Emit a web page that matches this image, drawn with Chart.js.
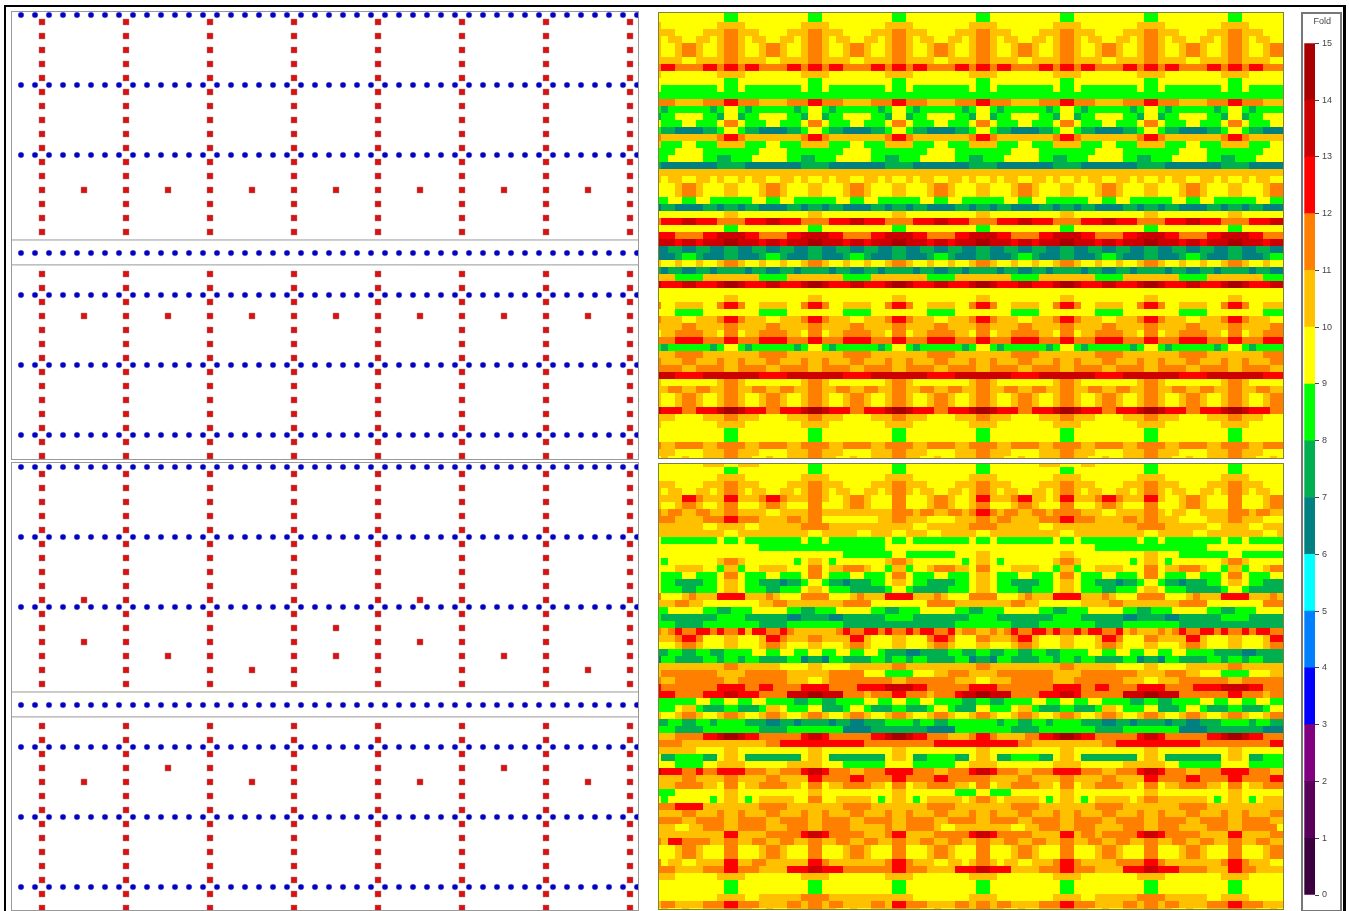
<!DOCTYPE html>
<html lang="en">
<head>
<meta charset="UTF-8">
<title>Fold maps</title>
<script src="https://cdn.jsdelivr.net/npm/chart.js"></script>
<style>
    html, body { margin: 0; padding: 0; background: #fff; overflow: hidden; }
    canvas { position: absolute; display: block; }
    #frame { position: absolute; left: 4px; top: 5px; width: 1337px; height: 920px;
             border-top: 2px solid #000; border-left: 2px solid #000; border-right: 3px solid #000; }
    .layout { outline: 1px solid #999; outline-offset: 0; }
    .heat { outline: 1px solid #808040; outline-offset: -1px; }
    #legendBox { position: absolute; left: 1301px; top: 12px; width: 37px; height: 896px; border: 2px solid #777; }
</style>
</head>
<body>
<div id="frame"></div>
<canvas id="layoutTop" class="layout" width="626" height="447" style="left:12px;top:12px"></canvas>
<canvas id="layoutBottom" class="layout" width="626" height="447" style="left:12px;top:463px"></canvas>
<canvas id="heatTop" class="heat" width="626" height="447" style="left:658px;top:12px"></canvas>
<canvas id="heatBottom" class="heat" width="626" height="447" style="left:658px;top:463px"></canvas>
<div id="legendBox"></div>
<canvas id="legend" width="38" height="896" style="left:1302px;top:13px"></canvas>

<script>
// survey layout, in station / row numbers
const receiverStations = [0,1,2,3,4,5,6,7,8,9,10,11,12,13,14,15,16,17,18,19,20,21,22,23,24,25,26,27,28,29,30,31,32,33,34,35,36,37,38,39,40,41,42,43,44];
const receiverLines = [-0.5,4.5,9.5,16.5,19.5,24.5,29.5];
const sourceLines = [1.5,7.5,13.5,19.5,25.5,31.5,37.5,43.5];
const sourceRows = [0,1,2,3,4,5,6,7,8,9,10,11,12,13,14,15,18,19,20,21,22,23,24,25,26,27,28,29,30,31];
const separators = [15.57,17.35];
const infillTop = [[4.5,12],[10.5,12],[16.5,12],[22.5,12],[28.5,12],[34.5,12],[40.5,12],
                   [4.5,21],[10.5,21],[16.5,21],[22.5,21],[28.5,21],[34.5,21],[40.5,21]];
const infillBottom = [[4.5,9],[28.5,9],[22.5,11],[4.5,12],[28.5,12],[10.5,13],[34.5,13],[22.5,13],[16.5,14],[40.5,14],
                      [10.5,21],[34.5,21],[4.5,22],[16.5,22],[28.5,22],[40.5,22]];

// fold legend
const foldLevels = [0,1,2,3,4,5,6,7,8,9,10,11,12,13,14];
const foldColors = ['#3c0040','#5a005a','#800080','#0000ff','#0080ff','#00ffff','#008080','#00b050',
                    '#00ff00','#ffff00','#ffc000','#ff8000','#ff0000','#cc0000','#a80000'];

// fold per cell, one hex digit per column
const foldTop = [
"9 999999999889 999999999889 999999999889 999999999889 999999999889 999999999889 999999999889 99999",
"9 999999999889 999999999889 999999999889 999999999889 999999999889 999999999889 999999999889 99999",
"a 99999999aaaa 99999999aaaa 99999999aaaa 99999999aaaa 99999999aaaa 99999999aaaa 99999999aaaa 99999",
"a aa9999aaabba aa9999aaabba aa9999aaabba aa9999aaabba aa9999aaabba aa9999aaabba aa9999aaabba aa999",
"a 9aa99aa9abba 9aa99aa9abba 9aa99aa9abba 9aa99aa9abba 9aa99aa9abba 9aa99aa9abba 9aa99aa9abba 9aa99",
"a 99abba99abba 99abba99abba 99abba99abba 99abba99abba 99abba99abba 99abba99abba 99abba99abba 99abb",
"a 99abba99abba 99abba99abba 99abba99abba 99abba99abba 99abba99abba 99abba99abba 99abba99abba 99abb",
"a aaa99aaaabba aaa99aaaabba aaa99aaaabba aaa99aaaabba aaa99aaaabba aaa99aaaabba aaa99aaaabba aaa99",
"b ccbbbbccbccb ccbbbbccbccb ccbbbbccbccb ccbbbbccbccb ccbbbbccbccb ccbbbbccbccb ccbbbbccbccb ccbbb",
"a 99999999aaaa 99999999aaaa 99999999aaaa 99999999aaaa 99999999aaaa 99999999aaaa 99999999aaaa 99999",
"9 999999999889 999999999889 999999999889 999999999889 999999999889 999999999889 999999999889 99999",
"9 888888889889 888888889889 888888889889 888888889889 888888889889 888888889889 888888889889 88888",
"8 888888888888 888888888888 888888888888 888888888888 888888888888 888888888888 888888888888 88888",
"b bbaaaabbbccb bbaaaabbbccb bbaaaabbbccb bbaaaabbbccb bbaaaabbbccb bbaaaabbbccb bbaaaabbbccb bbaaa",
"8 788888878998 788888878998 788888878998 788888878998 788888878998 788888878998 788888878998 78888",
"7 889999887997 889999887997 889999887997 889999887997 889999887997 889999887997 889999887997 88999",
"9 888998889bb9 888998889bb9 888998889bb9 888998889bb9 888998889bb9 888998889bb9 888998889bb9 88899",
"8 776666778998 776666778998 776666778998 776666778998 776666778998 776666778998 776666778998 77666",
"b aaaaaaaabccb aaaaaaaabccb aaaaaaaabccb aaaaaaaabccb aaaaaaaabccb aaaaaaaabccb aaaaaaaabccb aaaaa",
"a 88899888aaaa 88899888aaaa 88899888aaaa 88899888aaaa 88899888aaaa 88899888aaaa 88899888aaaa 88899",
"8 889999888888 889999888888 889999888888 889999888888 889999888888 889999888888 889999888888 88999",
"8 899999887788 899999887788 899999887788 899999887788 899999887788 899999887788 899999887788 89999",
"7 666666667777 666666667777 666666667777 666666667777 666666667777 666666667777 666666667777 66666",
"a aaaaaaaaaaaa aaaaaaaaaaaa aaaaaaaaaaaa aaaaaaaaaaaa aaaaaaaaaaaa aaaaaaaaaaaa aaaaaaaaaaaa aaaaa",
"a 9aa99aa9a99a 9aa99aa9a99a 9aa99aa9a99a 9aa99aa9a99a 9aa99aa9a99a 9aa99aa9a99a 9aa99aa9a99a 9aa99",
"9 99abba999aa9 99abba999aa9 99abba999aa9 99abba999aa9 99abba999aa9 99abba999aa9 99abba999aa9 99abb",
"9 99abba999aa9 99abba999aa9 99abba999aa9 99abba999aa9 99abba999aa9 99abba999aa9 99abba999aa9 99abb",
"8 899889988888 899889988888 899889988888 899889988888 899889988888 899889988888 899889988888 89988",
"6 776666776776 776666776776 776666776776 776666776776 776666776776 776666776776 776666776776 77666",
"9 999999999aa9 999999999aa9 999999999aa9 999999999aa9 999999999aa9 999999999aa9 999999999aa9 99999",
"b cccddcccbbbb cccddcccbbbb cccddcccbbbb cccddcccbbbb cccddcccbbbb cccddcccbbbb cccddcccbbbb cccdd",
"9 999999999889 999999999889 999999999889 999999999889 999999999889 999999999889 999999999889 99999",
"c ccbbbbccdddd ccbbbbccdddd ccbbbbccdddd ccbbbbccdddd ccbbbbccdddd ccbbbbccdddd ccbbbbccdddd ccbbb",
"d ddcddcdddeed ddcddcdddeed ddcddcdddeed ddcddcdddeed ddcddcdddeed ddcddcdddeed ddcddcdddeed ddcdd",
"6 677667766776 677667766776 677667766776 677667766776 677667766776 677667766776 677667766776 67766",
"6 667887666776 667887666776 667887666776 667887666776 667887666776 667887666776 667887666776 66788",
"a 99a99a99abba 99a99a99abba 99a99a99abba 99a99a99abba 99a99a99abba 99a99a99abba 99a99a99abba 99a99",
"7 677667767777 677667767777 677667767777 677667767777 677667767777 677667767777 677667767777 67766",
"a aa8888aaaaaa aa8888aaaaaa aa8888aaaaaa aa8888aaaaaa aa8888aaaaaa aa8888aaaaaa aa8888aaaaaa aa888",
"d cccddcccdeed cccddcccdeed cccddcccdeed cccddcccdeed cccddcccdeed cccddcccdeed cccddcccdeed cccdd",
"9 999999999999 999999999999 999999999999 999999999999 999999999999 999999999999 999999999999 99999",
"9 999999999aa9 999999999aa9 999999999aa9 999999999aa9 999999999aa9 999999999aa9 999999999aa9 99999",
"b 99aaaa99bccb 99aaaa99bccb 99aaaa99bccb 99aaaa99bccb 99aaaa99bccb 99aaaa99bccb 99aaaa99bccb 99aaa",
"9 998888999999 998888999999 998888999999 998888999999 998888999999 998888999999 998888999999 99888",
"b aaa99aaabccb aaa99aaabccb aaa99aaabccb aaa99aaabccb aaa99aaabccb aaa99aaabccb aaa99aaabccb aaa99",
"a aaabbaaaabba aaabbaaaabba aaabbaaaabba aaabbaaaabba aaabbaaaabba aaabbaaaabba aaabbaaaabba aaabb",
"9 aabbbbaa9bb9 aabbbbaa9bb9 aabbbbaa9bb9 aabbbbaa9bb9 aabbbbaa9bb9 aabbbbaa9bb9 aabbbbaa9bb9 aabbb",
"b bbccccbbbccb bbccccbbbccb bbccccbbbccb bbccccbbbccb bbccccbbbccb bbccccbbbccb bbccccbbbccb bbccc",
"8 788888878998 788888878998 788888878998 788888878998 788888878998 788888878998 788888878998 78888",
"a aabbbbaaaaaa aabbbbaaaaaa aabbbbaaaaaa aabbbbaaaaaa aabbbbaaaaaa aabbbbaaaaaa aabbbbaaaaaa aabbb",
"b aaabbaaabaab aaabbaaabaab aaabbaaabaab aaabbaaabaab aaabbaaabaab aaabbaaabaab aaabbaaabaab aaabb",
"b bbbaabbbbaab bbbaabbbbaab bbbaabbbbaab bbbaabbbbaab bbbaabbbbaab bbbaabbbbaab bbbaabbbbaab bbbaa",
"d ddccccdddddd ddccccdddddd ddccccdddddd ddccccdddddd ddccccdddddd ddccccdddddd ddccccdddddd ddccc",
"a 99999999abba 99999999abba 99999999abba 99999999abba 99999999abba 99999999abba 99999999abba 99999",
"a abbaabbaabba abbaabbaabba abbaabbaabba abbaabbaabba abbaabbaabba abbaabbaabba abbaabbaabba abbaa",
"a 99abba99abba 99abba99abba 99abba99abba 99abba99abba 99abba99abba 99abba99abba 99abba99abba 99abb",
"a 99abba99abba 99abba99abba 99abba99abba 99abba99abba 99abba99abba 99abba99abba 99abba99abba 99abb",
"d cccbbcccdeed cccbbcccdeed cccbbcccdeed cccbbcccdeed cccbbcccdeed cccbbcccdeed cccbbcccdeed cccbb",
"a aa9999aaabba aa9999aaabba aa9999aaabba aa9999aaabba aa9999aaabba aa9999aaabba aa9999aaabba aa999",
"a 99999999aaaa 99999999aaaa 99999999aaaa 99999999aaaa 99999999aaaa 99999999aaaa 99999999aaaa 99999",
"9 999999999889 999999999889 999999999889 999999999889 999999999889 999999999889 999999999889 99999",
"9 999999999889 999999999889 999999999889 999999999889 999999999889 999999999889 999999999889 99999",
"b aabbbbaabbbb aabbbbaabbbb aabbbbaabbbb aabbbbaabbbb aabbbbaabbbb aabbbbaabbbb aabbbbaabbbb aabbb",
"a aa9999aaabba aa9999aaabba aa9999aaabba aa9999aaabba aa9999aaabba aa9999aaabba aa9999aaabba aa999",
"9 a99a99aaabba a99a99aaabba a99a99aaabba a99a99aaabba a99a99aaabba a99a99aaabba a99a99aaabba a99a9"
];

const foldBottom = [
"9 999999aaa99a aa9999999889 999999999889 999999999889 999999aaa999 aa9999999889 999999999889 99999",
"9 999999999889 999999999889 999999999889 999999999889 999999999889 999999999889 999999999889 99999",
"9 99999999aaaa 99999999aaaa 99999999aaaa 99999999aaaa 99999999aaaa 99999999aaaa 99999999aaaa 99999",
"a aa9999aaabba aa9999aaabba aa9999aaabba aa9999aaabba aa9999aaabba aa9999aaabba aa9999aaabba aa999",
"a 9aa99aa9abba 9aa99aa9abba 9aa99aa9abba 9aa99aa9abba 9aa99aa9abba 9aa99aa9abba 9aa99aa9abba 9aa99",
"a aaaccbaaacca aabccbaaabba 99abba999bb9 99abba99acca aabccaa9acca aabccbaaacca 99abba999bb9 99abb",
"a 99abba99abb9 99abba999bb9 99abba999bb9 99abba99abb9 99abba999bb9 99abba999bb9 99abba999bb9 99abb",
"b abbaabbaabba aaa99aaaabba aaaaaaaaabbb abbaabbabccb abbaabbabbbb aaa99aaaabba 9aa99aaaabbb abbaa",
"b bbaaaabbbccb bbaaaabbabb9 9999999aabba aa9999aaabba bbaaaabbbccb bbaaaabbabba aa9999aaabba aa999",
"a aaaaaa99aaaa 99aaaaaabbbb aaaaaaaaaaaa 99aaaaaabbbb aaaaaa99aaaa aaaaaaaabbbb aaaaaa99aaaa 99aaa",
"a aaaaaaaaa99a aaaaaaaaa99a aaaa99aaa99a aa99aaaaa99a aaaaaaaaa99a aaaaaaaaa99a aaaa99aaaaaa aa99a",
"9 888888889889 888888889889 888888889889 888888889889 888888889889 888888889889 888888889889 88888",
"9 999999999999 998888888888 888888889999 999999999999 999999999999 998888888888 888888999999 99999",
"9 999999999999 999999999999 998888888998 888888999aa9 999999999aa9 999999999aa9 998888888998 88888",
"9 89999999abba 999999989aa9 89999999abba 999999989aa9 89999999abba 999999989aa9 89999999abba 99999",
"9 99aaaa998aa8 99aaaa999bb9 aabbba998aa8 99abbbaa9bb9 99aaaa998aa8 99aaaa999bb9 aabbba998aa8 99abb",
"9 888998889bb9 888998889bb9 888998889bb9 888998889aa9 888998889bb9 888998889bb9 888998889bb9 88899",
"9 887777889aa9 887776778998 776777889aa9 887777889aa9 887777889aa9 887776778998 776777889aa9 88777",
"9 888778889aa9 888778889aa9 888777778998 777778889aa9 888778889aa9 888778889aa9 888777778998 77777",
"b 999abaaacccc aaaba999bbbb 999abaaacccc aaaba999bbbb 999abaaacccc aaaba999bbbb 999abaaacccc aaaba",
"a aabbaa999999 99aabbaaaaaa aabbbb999999 99bbbbaaaaaa aabbaa999999 aaaabbaaaaaa aabbbb999999 99bbb",
"8 899999887788 899999887788 899999887788 899999887788 899999887788 899999887788 899999887788 89999",
"8 777777778888 777777667777 667777778888 777777778888 777777778888 777777667777 667777778888 77777",
"8 887777888888 887777888888 887777777777 777777888888 887777888888 887777888888 887777777777 77777",
"b abcbbccbcbbc accbbcbaaaaa abcbbccbcbbc bccbbcabbaab abcbbccbcbbc bccbbcabaaab abcbbccbcbbc bccbb",
"a aabccb999aa9 99accbaaabba aaacca999aa9 99bccb999bba aabcca999aa9 99accb999bba aaacca999aa9 99acc",
"9 99abba999aa9 99abba999aa9 99abba999aa9 99abba999aa9 99abba999aa9 99abba999aa9 99abba999aa9 99abb",
"7 788778877888 899889988998 899889987776 677778877887 788778877888 899889988998 899888877776 67777",
"6 887777887887 887777886776 887777887887 887777886776 887777887887 887777886776 887777887887 88777",
"a aaaaaaaaabba aaaaa9999aa9 999aaaaaabba aaaaaaaaabba aaaaaaaaabba aaaaa9999aa9 999aaaaaabba aaaaa",
"a bbbbbbbbaaaa bbbbbbaaaaaa bbbbb9998888 999aabbbaaaa bbbbbbbbaaaa bbbbbbbbaaaa bbbaa9998888 999aa",
"b aabbbbbbbaab bbbbbbaaa99a bbbbbbbbbaab bbbbbbaaa99a aabbbbbbaaab bbbbbbaaa99a aabbbbbbbaab bbbbb",
"c bbbbbbbbcccc bbccbbbbcccc bbbbccccdddd ccbbbbbbcccc bbbbbbbbcccc bbccbbbbcccc bbbbccccdddd ccbbb",
"c ccbbbbcccddc ccbbbbdddeed ddbbbabbbccb bbabbbcddeed ddbbbbcccddc bbbbbbdddeed ddbbbbbbbccb bbabb",
"8 888889988998 899888877887 788889988998 899888877887 788889988998 899888877887 788889988998 89988",
"8 889aa8777887 778aa9888997 778998777887 778998777998 889aa8777887 778aa9888997 778998777887 77899",
"a 99abba99abba 99abba99abba 99abba99abba 99abba99abba 99abba99abba 99abba99abba 99abba99abba 99abb",
"7 788778878888 777667767777 677667778888 788778888888 788778878888 777667767777 677667778888 78877",
"8 887777888888 887777888888 886666777777 776666888888 887777888888 887777888888 886666777777 77666",
"a aabbbbccdeed ccbbbbbbcddc bbbbbbccdeed ccbbbaaabccb aaaabbccdeed ccbbbbbbcddc bbbbbbccdeed ccbbb",
"b bbbaaaaaaaaa aaabbccccccc cccccbbbbbbb bbbccccccccc cccbbaaaaaaa aaabbccccccc cccccbbbbbbb bbbcc",
"a aaaaa9999aa9 999999999aa9 999999999aa9 999999999aa9 999999999aa9 999999999aa9 999999999aa9 99999",
"9 778888779aa9 777777779aa9 777777779aa9 778888779aa9 778888779aa9 777777779aa9 777777779aa9 77888",
"9 99888899aaaa 999999aaaaa9 998888889999 88888899aaaa 99999999aaaa 999999aaaaaa 998888889999 88888",
"d cccbbcbbcccc bbbaabbbcddc bbbaabbbcccc bbbaabbbcddc bbbaabbbcccc bbbaabbbcddc bbbaabbbcccc bbbaa",
"a aaabbaaaabba aaabbaaaaccb bbbccbbbbccb bbbccbbbbbba aaabbaaaabba aaabbaaaaccb bbbccbbbbccb bbbcc",
"a aabbbbaa9bb9 aabbbbaa9bb9 aabbbbaa9bb9 aabbbbaa9bb9 aabbbbaa9bb9 aabbbbaa9bb9 aabbbbaa9bb9 aabbb",
"8 889999999aa9 999999999aa9 999999999aa9 999999888998 889999999aa9 999999999aa9 999999999aa9 99999",
"9 899999989aa9 89aaaaa99bb9 9aaaaa989aa9 89aaaaa9abba 9aaaaa989aa9 89aaaaa9abba aaaaaa989aa9 89aaa",
"b bbccccaaaaaa aabbbbaaaaaa aabbbbaaaaaa aabbbbaaaaaa aabbbbaaaaaa aabbbbaaaaaa aabbbbaaaaaa aaaaa",
"a aaabbaaabaab aaabbaaabaab aaabbaaabaab aaabbaaabaab aaabbaaabaab aaabbaaabaab aaabbaaabaab aaabb",
"b bbbaabbbbaab bbbaabbbbaab bbbaabbbbaab bbbaabbbbaab bbbaabbbbaab bbbaabbbbaab bbbaabbbbaab bbbaa",
"a aa99aabbbaab bbbaaabbbaab bbbaaaaabaab bbba99aaaaaa aa99aabbbaab bbaaaabbbaab bbaaaabbbaab bbbb9",
"a aaaaaaaaacca aaabbbbbcddc bbbbbaaabcca aaabbbbbcddc bbbbbaaaacca bbabbbbbcddc bbbbbaaaacca aaabb",
"b accbbbbaabba abbaabbaabba abbaabbaabba abbaabbaabba abbaabbaabba abbaabbaabba abbaabbaabba abbaa",
"9 99abba999bb9 99abba999bb9 99abba999bb9 99abba999bb9 99abba999bb9 99abba999bb9 99abba999bb9 99abb",
"9 99abba999bb9 99abba999bb9 99abba999bb9 99abba999bb9 99abba999bb9 99abba999bb9 99abba999bb9 99abb",
"b 9aa99aaaacca abbaaaaaaccb aaaaaaaabccb aaa99aa9abba 9aa99aaabccb aaaaabbbbccb aaaaaaaabccb aaa99",
"b bbaaaabbbccb bbaaaacccddc ccbbbbbbbccb bbaaaacccddc ccaaaabbbccb bbaaaacccddc ccbbbbaaaccb baaaa",
"a aa999999aaaa 99999999aaaa 99999999aaaa 99999999aaaa 99999999aaaa 99999999aaaa 99999999aaaa 99999",
"9 999999999889 999999999889 999999999889 999999999889 999999999889 999999999889 999999999889 99999",
"9 999999999889 999999999889 999999999889 999999999889 999999999889 999999999889 999999999889 99999",
"9 99999999aaaa 99aaaaaabbbb aaaaaaaaaaaa 99999999aaaa 99999999aaaa 99aaaaaabbbb aaaaaa99aaaa 99999",
"a bbaaaabbbccb bbaaaabbabba bbaaaabbaccb bbaaaabbabba bbaaaabbbccb bbaaaabbabba bbaaaabbbccb bbaaa",
"9 a99a99aaabba a99a99aaabba a99a99aaabba a99a99aaabba a99a99aaabba a99a99aaabba a99a99aaabba a99a9"
];

const hiddenAxis = (min, max, reverse) => ({ type: 'linear', display: false, min, max, reverse: !!reverse });

function drawLayout(id, infill, rowOffset) {
    const xMin = -9 / 14, yMin = -rowOffset / 14;
    const xMax = xMin + 626 / 14, yMax = yMin + 447 / 14;

    const receivers = [];
    receiverLines.forEach(y => receiverStations.forEach(x => receivers.push({ x, y })));

    const sources = [];
    sourceLines.forEach(x => sourceRows.forEach(y => sources.push({ x, y })));
    infill.forEach(p => sources.push({ x: p[0], y: p[1] }));

    const lines = separators.map(y => ({
        data: [{ x: xMin, y }, { x: xMax, y }],
        showLine: true, borderColor: '#999', borderWidth: 1, pointRadius: 0
    }));

    new Chart(document.getElementById(id), {
        type: 'scatter',
        data: {
            datasets: [
                ...lines,
                { data: receivers, pointStyle: 'circle', pointRadius: 2.8, pointBackgroundColor: '#0000c8',
                  pointBorderColor: 'rgba(90,90,170,0.6)', pointBorderWidth: 0.6 },
                { data: sources, pointStyle: 'rect', pointRadius: 4.2, pointBackgroundColor: '#dc1010',
                  pointBorderColor: 'rgba(150,120,120,0.7)', pointBorderWidth: 0.6 }
            ]
        },
        options: {
            responsive: false, animation: false, events: [],
            layout: { autoPadding: false },
            plugins: { legend: { display: false }, tooltip: { enabled: false } },
            scales: { x: hiddenAxis(xMin, xMax), y: hiddenAxis(yMin, yMax, true) }
        }
    });
}

function drawHeat(id, rows, firstRowCentre) {
    const xMin = 1 - 6.5 / 7, yMin = 1 - firstRowCentre / 7;

    const datasets = foldLevels.map(level => ({
        data: [], pointStyle: 'rect', pointRadius: 4.95, pointBorderWidth: 0,
        pointBackgroundColor: foldColors[level]
    }));
    rows.forEach((row, r) => {
        row.replace(/ /g, '').split('').forEach((ch, c) => {
            datasets[parseInt(ch, 16)].data.push({ x: c, y: r });
        });
    });

    new Chart(document.getElementById(id), {
        type: 'scatter',
        data: { datasets },
        options: {
            responsive: false, animation: false, events: [],
            layout: { autoPadding: false },
            plugins: { legend: { display: false }, tooltip: { enabled: false } },
            scales: { x: hiddenAxis(xMin, xMin + 626 / 7), y: hiddenAxis(yMin, yMin + 447 / 7, true) }
        }
    });
}

drawLayout('layoutTop', infillTop, 10);
drawLayout('layoutBottom', infillBottom, 11);
drawHeat('heatTop', foldTop, 6.5);
drawHeat('heatBottom', foldBottom, 7.5);

new Chart(document.getElementById('legend'), {
    type: 'bar',
    data: {
        labels: ['Fold'],
        datasets: foldLevels.map(level => ({
            data: [1], backgroundColor: foldColors[level], borderWidth: 0,
            barPercentage: 1, categoryPercentage: 1
        }))
    },
    options: {
        responsive: false, animation: false, events: [],
        layout: { padding: { left: 2.3, bottom: 14 } },
        plugins: {
            legend: { display: false },
            tooltip: { enabled: false },
            title: {
                display: true, text: 'Fold', color: '#444',
                font: { family: 'Liberation Sans', size: 9, weight: 'normal' },
                padding: { top: 3, bottom: 16.5 }
            }
        },
        scales: {
            x: { display: false, stacked: true },
            y: {
                stacked: true, position: 'right', min: 0, max: 15,
                afterFit: s => { s.width = 25; },
                border: { display: false },
                grid: { drawOnChartArea: false, tickLength: 4, tickColor: '#444' },
                ticks: { stepSize: 1, autoSkip: false, padding: 3, color: '#444',
                         font: { family: 'Liberation Sans', size: 9 } }
            }
        }
    }
});
</script>
</body>
</html>
